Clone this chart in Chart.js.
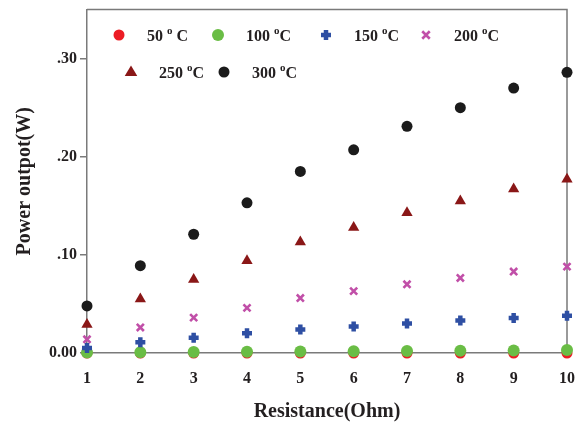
<!DOCTYPE html>
<html><head><meta charset="utf-8">
<script src="https://cdn.jsdelivr.net/npm/chart.js@4/dist/chart.umd.min.js"></script>
<style>html,body{margin:0;padding:0;background:#fff}#wrap{width:577px;height:425px}</style>
</head><body><div id="wrap"><canvas id="c" width="577" height="425"></canvas></div>
<script>
// ---- data ----
const resistance = [1, 2, 3, 4, 5, 6, 7, 8, 9, 10];
const xTickLabels = ['1', '2', '3', '4', '5', '6', '7', '8', '9', '10'];
const yTickValues = [0, 0.1, 0.2, 0.3];
const yTickLabels = ['0.00', '.10', '.20', '.30'];
const seriesNames = ['50 ^o^ C', '100 ^o^C', '150 ^o^C', '200 ^o^C', '250 ^o^C', '300 ^o^C'];
const power50  = [0.0000, 0.0000, 0.0000, 0.0000, 0.0000, 0.0000, 0.0000, 0.0000, 0.0000, 0.0000];
const power100 = [0.0005, 0.0008, 0.0010, 0.0013, 0.0016, 0.0018, 0.0021, 0.0023, 0.0026, 0.0030];
const power150 = [0.005, 0.011, 0.0155, 0.020, 0.024, 0.027, 0.030, 0.033, 0.0357, 0.038];
const power200 = [0.014, 0.026, 0.036, 0.046, 0.056, 0.063, 0.070, 0.0765, 0.083, 0.088];
const power250 = [0.029, 0.055, 0.075, 0.094, 0.113, 0.128, 0.143, 0.155, 0.167, 0.177];
const power300 = [0.048, 0.089, 0.121, 0.153, 0.185, 0.207, 0.231, 0.250, 0.270, 0.286];

const FONT = "'Liberation Serif', 'Times New Roman', serif";
const AXIS_GRAY = '#7a7a7a';

const styles = [
  {color: '#ec1c24', pointStyle: 'circle', radius: 5.5, bw: 0, order: 2},
  {color: '#6abd45', pointStyle: 'circle', radius: 6, bw: 0, order: 1},
  {color: '#2e4fa3', pointStyle: 'cross', radius: 5, bw: 4.5, order: 0},
  {color: '#c14fa8', pointStyle: 'crossRot', radius: 5, bw: 2.6, order: 0},
  {color: '#8a1717', pointStyle: 'triangle', radius: 6.5, bw: 0, order: 0},
  {color: '#1b1b1b', pointStyle: 'circle', radius: 5.5, bw: 0, order: 0}
];
const allSeries = [power50, power100, power150, power200, power250, power300];

const datasets = allSeries.map((vals, i) => ({
  label: seriesNames[i],
  data: resistance.map((r, j) => ({x: r, y: vals[j]})),
  pointStyle: styles[i].pointStyle,
  pointRadius: styles[i].radius,
  pointHoverRadius: styles[i].radius,
  pointBackgroundColor: styles[i].color,
  pointBorderColor: styles[i].color,
  pointBorderWidth: styles[i].bw,
  showLine: false,
  clip: false,
  order: styles[i].order
}));

// marker drawer for legend
function drawMarker(ctx, style, x, y, r, color, bw) {
  ctx.save();
  ctx.fillStyle = color; ctx.strokeStyle = color; ctx.lineWidth = bw;
  ctx.beginPath();
  if (style === 'circle') { ctx.arc(x, y, r, 0, Math.PI * 2); ctx.fill(); }
  else if (style === 'triangle') {
    ctx.moveTo(x, y - r);
    ctx.lineTo(x + r * 0.966, y + r * 0.6);
    ctx.lineTo(x - r * 0.966, y + r * 0.6);
    ctx.closePath(); ctx.fill();
  } else if (style === 'cross') {
    ctx.moveTo(x - r, y); ctx.lineTo(x + r, y); ctx.moveTo(x, y - r); ctx.lineTo(x, y + r); ctx.stroke();
  } else if (style === 'crossRot') {
    const d = r * 0.75;
    ctx.moveTo(x - d, y - d); ctx.lineTo(x + d, y + d); ctx.moveTo(x + d, y - d); ctx.lineTo(x - d, y + d); ctx.stroke();
  }
  ctx.restore();
}

function drawLabel(ctx, text, x, y) {
  const parts = text.split('^');
  let cx = x;
  ctx.textBaseline = 'alphabetic';
  ctx.textAlign = 'left';
  parts.forEach((p, k) => {
    if (k % 2 === 1) {
      ctx.font = 'bold 11px ' + FONT;
      ctx.fillText(p, cx, y - 7);
    } else {
      ctx.font = 'bold 16px ' + FONT;
      ctx.fillText(p, cx, y);
    }
    cx += ctx.measureText(p).width;
  });
}

const legendPlugin = {
  id: 'insideLegend',
  afterDatasetsDraw(chart, args, opts) {
    const ctx = chart.ctx;
    ctx.save();
    opts.positions.forEach((pos, i) => {
      const s = styles[i];
      drawMarker(ctx, s.pointStyle, pos[0], pos[1], s.radius, s.color, s.bw);
      ctx.fillStyle = '#231f20';
      drawLabel(ctx, seriesNames[i], pos[0] + 28, pos[1] + 6);
    });
    ctx.restore();
  }
};

const framePlugin = {
  id: 'frame',
  beforeDatasetsDraw(chart) {
    const {ctx, chartArea: a} = chart;
    ctx.save();
    ctx.strokeStyle = AXIS_GRAY;
    ctx.lineWidth = 1.5;
    ctx.beginPath();
    ctx.moveTo(a.left, a.top); ctx.lineTo(a.right, a.top); ctx.lineTo(a.right, a.bottom);
    ctx.stroke();
    ctx.restore();
  }
};

function noOverflow(s) {
  s.paddingLeft = 0; s.paddingRight = 0; s.paddingTop = 0; s.paddingBottom = 0;
}

new Chart(document.getElementById('c'), {
  type: 'scatter',
  data: {datasets},
  plugins: [framePlugin, legendPlugin],
  options: {
    responsive: false,
    animation: false,
    devicePixelRatio: 1,
    layout: {padding: {top: 6, right: 10, left: 0, bottom: 0}},
    plugins: {
      legend: {display: false},
      tooltip: {enabled: false},
      insideLegend: {positions: [[119, 35], [218, 35], [326, 35], [426, 35], [131, 72], [224, 72]]}
    },
    scales: {
      x: {
        type: 'linear', min: 1, max: 10,
        afterBuildTicks: s => { s.ticks = resistance.map(v => ({value: v})); },
        afterFit: s => { s.height = 72; noOverflow(s); },
        grid: {display: false, drawTicks: false},
        border: {display: true, color: AXIS_GRAY, width: 1.5},
        ticks: {
          padding: 16, color: '#231f20', maxRotation: 0,
          font: {family: FONT, size: 16, weight: 'bold'},
          callback: (v) => xTickLabels[resistance.indexOf(v)]
        },
        title: {display: true, text: 'Resistance(Ohm)', color: '#231f20',
          font: {family: FONT, size: 20, weight: 'bold'}, padding: {top: 0, bottom: 1}}
      },
      y: {
        type: 'linear', min: 0, max: 0.35,
        afterBuildTicks: s => { s.ticks = yTickValues.map(v => ({value: v})); },
        afterFit: s => { s.width = 87; noOverflow(s); },
        grid: {display: true, drawOnChartArea: false, drawTicks: true, tickLength: 7, color: AXIS_GRAY, lineWidth: 1.5},
        border: {display: true, color: AXIS_GRAY, width: 1.5},
        ticks: {
          padding: 3, color: '#231f20',
          font: {family: FONT, size: 16, weight: 'bold'},
          callback: (v) => yTickLabels[yTickValues.indexOf(v)]
        },
        title: {display: true, text: 'Power outpot(W)', color: '#231f20',
          font: {family: FONT, size: 20, weight: 'bold'}, padding: {top: 13, bottom: 0}}
      }
    }
  }
});
</script>
</body></html>
